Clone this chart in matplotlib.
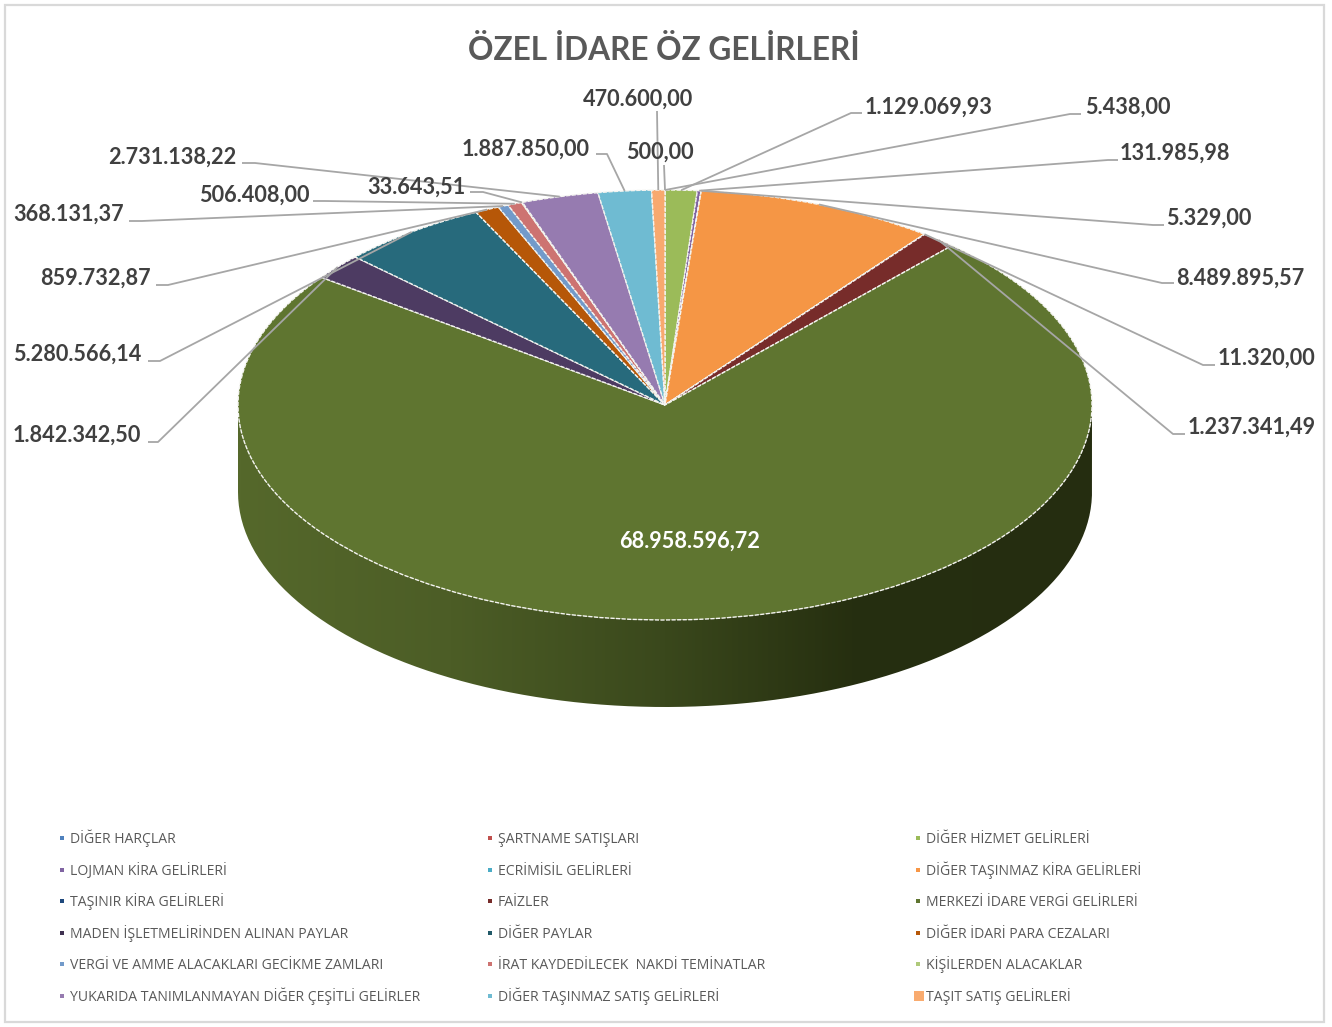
#!/usr/bin/env python3
import matplotlib
matplotlib.use("Agg")
import matplotlib.pyplot as plt
from matplotlib.colors import LinearSegmentedColormap
from matplotlib.patches import PathPatch, Rectangle
from matplotlib.path import Path
import numpy as np

# data, clockwise from 12 o'clock
categories = [
    "DİĞER HARÇLAR", "ŞARTNAME SATIŞLARI", "DİĞER HİZMET GELİRLERİ",
    "LOJMAN KİRA GELİRLERİ", "ECRİMİSİL GELİRLERİ", "DİĞER TAŞINMAZ KİRA GELİRLERİ",
    "TAŞINIR KİRA GELİRLERİ", "FAİZLER", "MERKEZİ İDARE VERGİ GELİRLERİ",
    "MADEN İŞLETMELİRİNDEN ALINAN PAYLAR", "DİĞER PAYLAR", "DİĞER İDARİ PARA CEZALARI",
    "VERGİ VE AMME ALACAKLARI GECİKME ZAMLARI", "İRAT KAYDEDİLECEK  NAKDİ TEMİNATLAR", "KİŞİLERDEN ALACAKLAR",
    "YUKARIDA TANIMLANMAYAN DİĞER ÇEŞİTLİ GELİRLER", "DİĞER TAŞINMAZ SATIŞ GELİRLERİ", "TAŞIT SATIŞ GELİRLERİ",
]
values = [
    500.00, 5438.00, 1129069.93, 131985.98, 5329.00, 8489895.57,
    11320.00, 1237341.49, 68958596.72, 1842342.50, 5280566.14, 859732.87,
    368131.37, 506408.00, 33643.51, 2731138.22, 1887850.00, 470600.00,
]
value_labels = [
    "500,00", "5.438,00", "1.129.069,93", "131.985,98", "5.329,00", "8.489.895,57",
    "11.320,00", "1.237.341,49", "68.958.596,72", "1.842.342,50", "5.280.566,14", "859.732,87",
    "368.131,37", "506.408,00", "33.643,51", "2.731.138,22", "1.887.850,00", "470.600,00",
]
slice_colors = [
    "#4f81bd", "#c0504d", "#9bbb59", "#8064a2", "#4bacc6", "#f59645",
    "#1f497d", "#772c2a", "#5f7530", "#4d3b62", "#276a7c", "#b65708",
    "#729aca", "#cd7371", "#afc97a", "#967bb0", "#6fbbd2", "#f8a96f",
]
legend_colors = [
    "#4f81bd", "#c0504d", "#9bbb59", "#8064a2", "#4bacc6", "#f79646",
    "#1f497d", "#772c2a", "#5f7530", "#3f3151", "#215968", "#b65708",
    "#729aca", "#cd7371", "#afc97a", "#967bb0", "#6fbbd2", "#f9ab6f",
]
title = "ÖZEL İDARE ÖZ GELİRLERİ"

# layout, all in pixels of the 1332x1027 picture
W, H = 1332, 1027
CX, CY, RX, RY, DEPTH = 665, 405, 427, 215, 87
# label left edge, label centre y, line start, elbow (None when the line is straight)
label_layout = [
    (626, 151, (664, 165), None),
    (1085, 106, (1081, 114), (1070, 114)),
    (865, 106, (862, 113), (851, 113)),
    (1120, 152, (1118, 160), (1108, 160)),
    (1166, 217, (1164, 225), (1153, 225)),
    (1176, 277, (1174, 283), (1162, 283)),
    (1218, 357, (1215, 365), (1203, 365)),
    (1188, 426, (1185, 434), (1173, 434)),
    None,
    (13, 434, (148, 442), (158, 442)),
    (13, 353, (148, 361), (160, 361)),
    (40, 277, (156, 285), (168, 285)),
    (13, 213, (129, 221), (142, 221)),
    (199, 194, (313, 201), (325, 201)),
    (367, 186, (470, 192), (483, 192)),
    (108, 156, (242, 163), (255, 163)),
    (462, 148, (596, 154), (607, 154)),
    (583, 98, (657, 111), None),
]
legend_x = [62, 490, 918]
legend_y = [838, 870, 901, 933, 964, 996]


def draw_side(ax):
    # gradient wall below the front half of the ellipse
    t = np.linspace(np.pi, 2 * np.pi, 200)
    d = DEPTH / RY
    xs = np.concatenate([np.cos(t), np.cos(t[::-1])])
    ys = np.concatenate([np.sin(t), np.sin(t[::-1]) - d])
    patch = PathPatch(Path(np.column_stack([xs, ys])), facecolor="none", edgecolor="none")
    ax.add_patch(patch)
    cmap = LinearSegmentedColormap.from_list(
        "side",
        [(0.0, "#55682b"), (0.25, "#4c5d26"), (0.5, "#3a481c"), (0.72, "#262f10"), (1.0, "#252d10")],
    )
    grad = np.linspace(0, 1, 256).reshape(1, -1)
    img = ax.imshow(grad, extent=(-1, 1, -1 - d, 0), cmap=cmap, aspect="auto", zorder=0.5)
    img.set_clip_path(patch)


def main():
    fig = plt.figure(figsize=(W / 100, H / 100), dpi=100, facecolor="white")

    ax = fig.add_axes([0, 0, 1, 1])
    wedges, _ = ax.pie(
        values, colors=slice_colors, startangle=90, counterclock=False, radius=1,
        wedgeprops={"edgecolor": "#f4f4f0", "linewidth": 1.0, "linestyle": (0, (3, 1))},
    )
    draw_side(ax)
    ax.set_xlim(-CX / RX, (W - CX) / RX)
    ax.set_ylim((CY - H) / RY, CY / RY)
    ax.set_aspect("auto")

    over = fig.add_axes([0, 0, 1, 1])
    over.set_xlim(0, W)
    over.set_ylim(H, 0)
    over.axis("off")
    over.add_patch(Rectangle((5, 5), 1319, 1017, facecolor="none", edgecolor="#d9d9d9", linewidth=1.6))

    over.text(664, 60, title, ha="center", va="baseline", fontsize=22.8, fontweight="bold",
              family="Lato", color="#595959")

    for wedge, text, layout in zip(wedges, value_labels, label_layout):
        if layout is None:
            continue
        mid = np.radians((wedge.theta1 + wedge.theta2) / 2)
        # wedge middle on the rim, as picture pixels
        px = over.transData.inverted().transform(
            ax.transData.transform((np.cos(mid), np.sin(mid))))
        x, y, start, elbow = layout
        pts = [start] + ([elbow] if elbow else []) + [tuple(px)]
        over.plot(*zip(*pts), color="#a6a6a6", linewidth=1.3, solid_capstyle="butt")
        over.text(x, y + 8, text, ha="left", va="baseline", fontsize=15.6, fontweight="bold",
                  family="Lato", color="#404040")

    big = values.index(max(values))
    over.text(690, 548, value_labels[big], ha="center", va="baseline", fontsize=15.6,
              fontweight="bold", family="Lato", color="white")

    for i, (name, color) in enumerate(zip(categories, legend_colors)):
        row, col = divmod(i, 3)
        mx, my = legend_x[col], legend_y[row]
        # last entry has the full size key in the reference
        size = 10 if i == len(categories) - 1 else 4
        left = mx - 4 if size > 4 else mx - size / 2
        over.add_patch(Rectangle((left, my - size / 2), size, size, facecolor=color, edgecolor="none"))
        over.text(mx + 8, my + 5, name, ha="left", va="baseline", fontsize=10.05, family="Open Sans",
                  color="#595959")

    fig.savefig("out.png", dpi=100)


if __name__ == "__main__":
    main()
